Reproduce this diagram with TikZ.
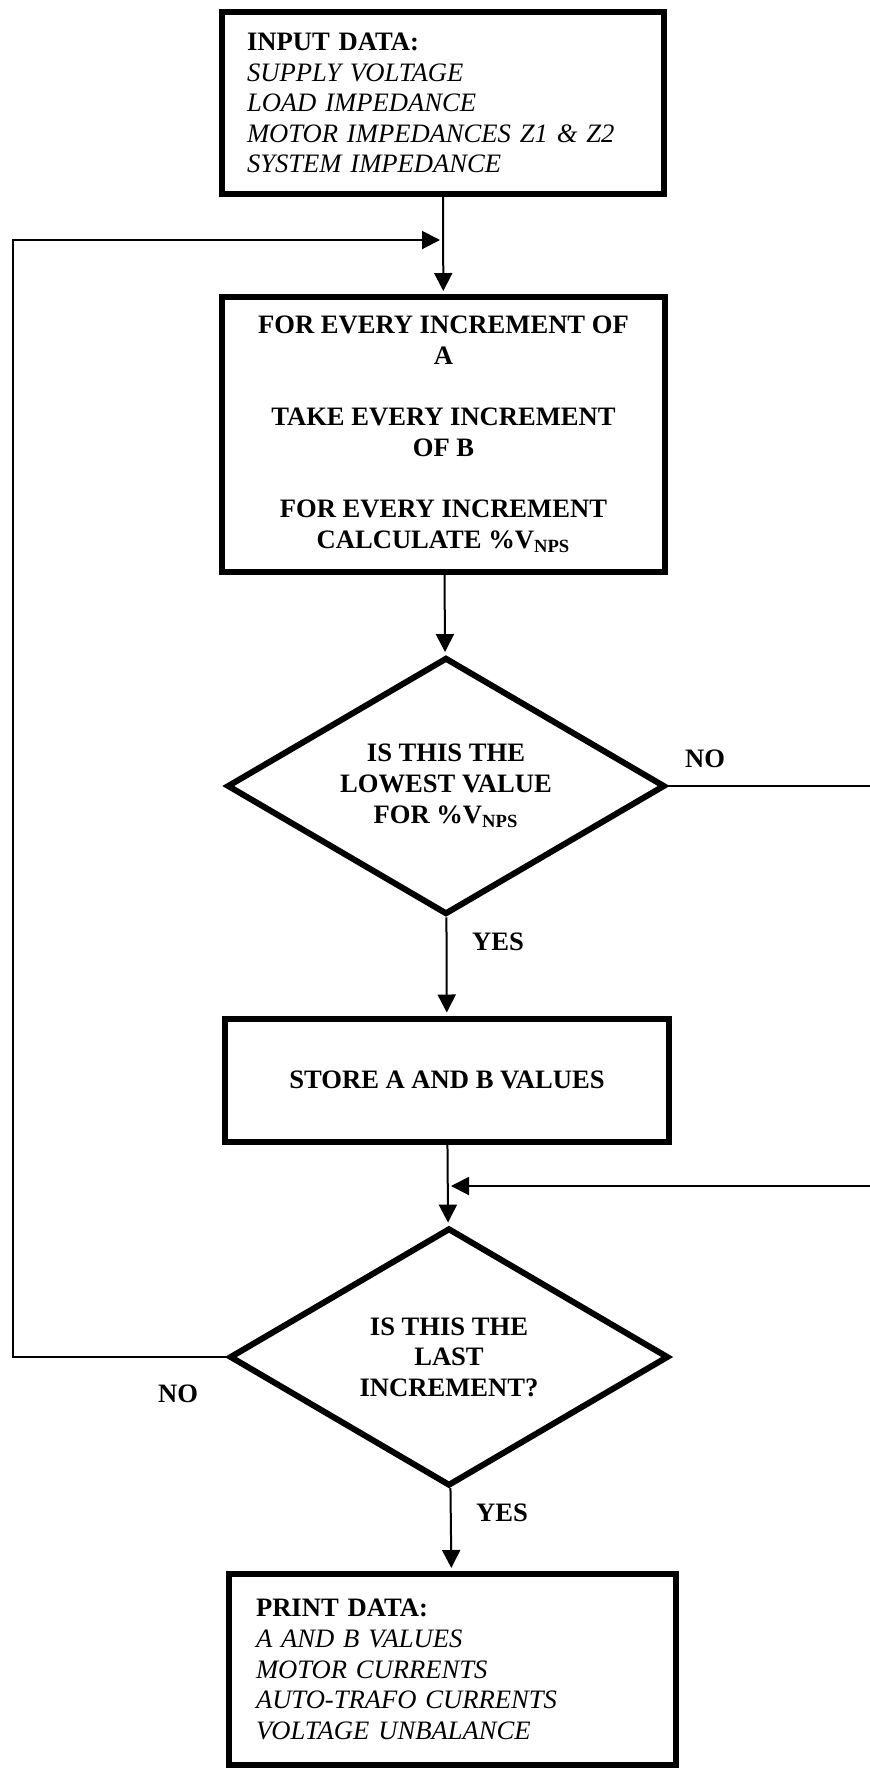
\documentclass[tikz,border=0pt]{standalone}
\usepackage{fontspec}
\setmainfont{Liberation Serif}
\usetikzlibrary{shapes.geometric,arrows.meta}

\newcommand\chartfont{\fontsize{13.3}{15.3}\selectfont}

\begin{document}
\begin{tikzpicture}[x=0.5pt,y=-0.5pt,
    flowbox/.style={draw, line width=3pt, align=center, font=\chartfont\bfseries},
    listbox/.style={flowbox, align=left, font=\chartfont},
    decision/.style={draw, diamond, line width=3pt, inner sep=0pt, aspect=1.7, align=center, font=\chartfont\bfseries},
    flowarrow/.style={line width=1pt, shorten >=1.5pt, -{Triangle[length=9pt,width=9pt]}},
    answer/.style={font=\chartfont\bfseries}]

      % Page size
      \useasboundingbox (0,0) rectangle (870,1769);
      \clip (0,0) rectangle (870,1769);
      \fill[white] (0,0) rectangle (870,1769);

      % Input box
      \node[listbox, minimum width=221pt, minimum height=91pt, text width=196pt, inner xsep=12.5pt] (input) at (443,103)
        {\textbf{INPUT DATA:}\\ \textit{SUPPLY VOLTAGE}\\ \textit{LOAD IMPEDANCE}\\ \textit{MOTOR IMPEDANCES Z1 \& Z2}\\ \textit{SYSTEM IMPEDANCE}};

      % Calculation box
      \node[flowbox, minimum width=221.5pt, minimum height=137.5pt] (calc) at (443.5,434.5)
        {FOR EVERY INCREMENT OF\\ A\\[15.3pt] TAKE EVERY INCREMENT\\ OF B\\[15.3pt] FOR EVERY INCREMENT\\ CALCULATE \%V\textsubscript{NPS}};

      % Decisions
      \node[decision, minimum width=219pt, minimum height=128.5pt] (lowest) at (446,786)
        {IS THIS THE\\ LOWEST VALUE\\ FOR \%V\textsubscript{NPS}};
      \node[decision, minimum width=219.5pt, minimum height=129pt] (last) at (449,1357)
        {IS THIS THE\\ LAST\\ INCREMENT?};

      % Store box
      \node[flowbox, minimum width=222pt, minimum height=61.5pt] (store) at (447,1080) {STORE A AND B VALUES};

      % Print box
      \node[listbox, minimum width=223.5pt, minimum height=95.5pt, text width=196.5pt, inner xsep=13.5pt] (print) at (452.5,1669.5)
        {\textbf{PRINT DATA:}\\ \textit{A AND B VALUES}\\ \textit{MOTOR CURRENTS}\\ \textit{AUTO-TRAFO CURRENTS}\\ \textit{VOLTAGE UNBALANCE}};

      % Loop points
      \coordinate (loopin) at (443,240);
      \coordinate (loopleft) at (13,240);
      \coordinate (merge) at (448,1186);
      \coordinate (loopright) at (900,786);

      % Main flow
      \draw[flowarrow] (input) -- (calc);
      \draw[flowarrow] (calc) -- (lowest);
      \draw[flowarrow] (lowest) -- (store);
      \draw[flowarrow] (store) -- (last);
      \draw[flowarrow] (last) -- (print);

      % Loops
      \draw[flowarrow] (lowest.east) -| (loopright |- merge) -- (merge);
      \draw[flowarrow] (last.west) -| (loopleft) -- (loopin);

      % Labels
      \node[answer] (no1) at (705,759) {NO};
      \node[answer] (yes1) at (498,942) {YES};
      \node[answer] (no2) at (178,1394) {NO};
      \node[answer] (yes2) at (502,1513) {YES};

\end{tikzpicture}
\end{document}
